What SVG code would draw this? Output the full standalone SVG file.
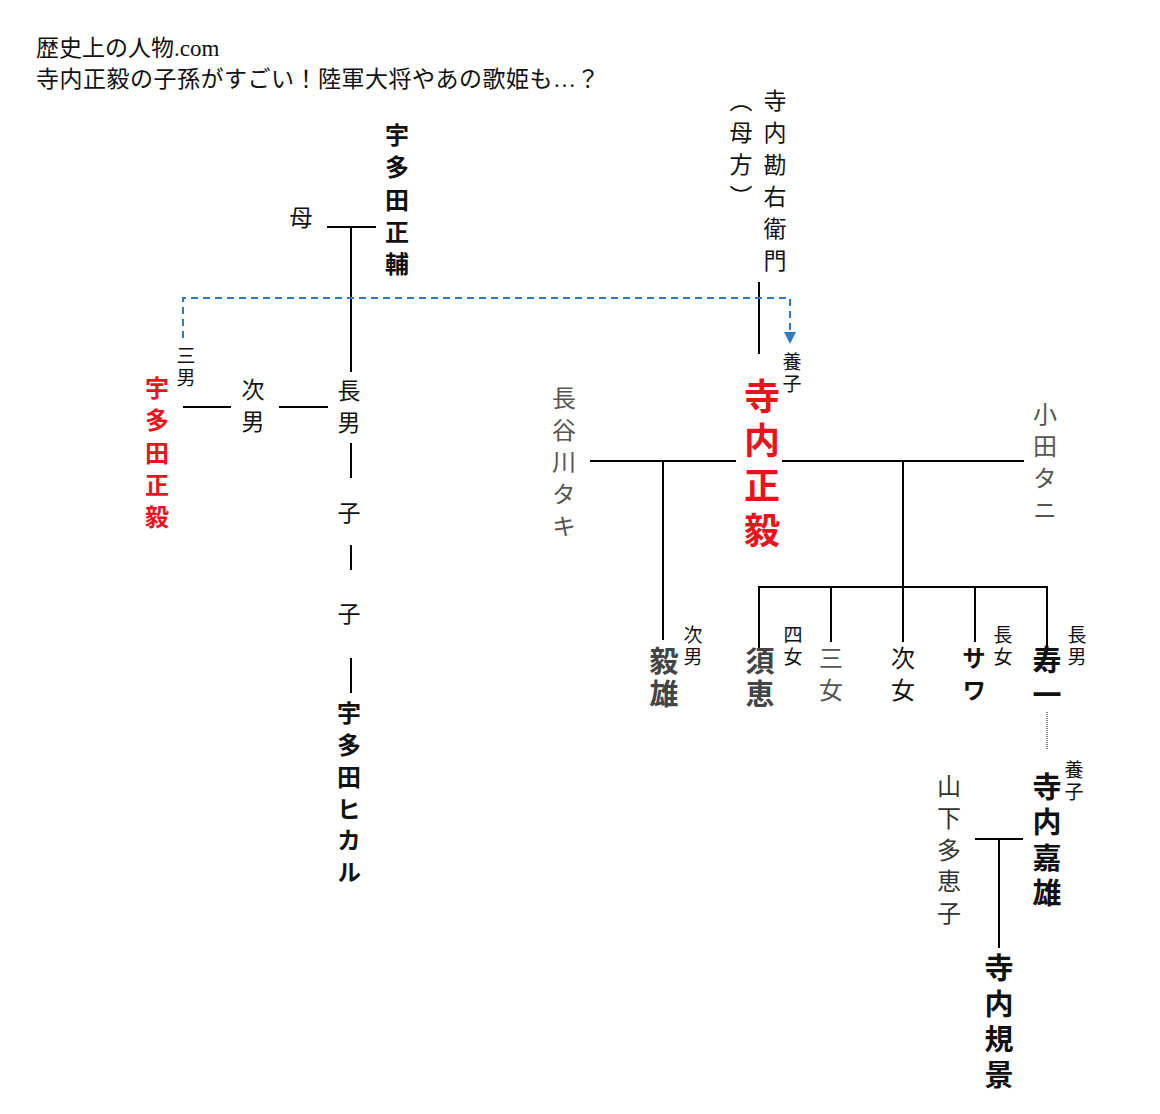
<svg xmlns="http://www.w3.org/2000/svg" width="1160" height="1114" viewBox="0 0 1160 1114">
<defs>
<style>
text{font-family:"Noto Sans CJK JP","Noto Sans CJK SC",sans-serif;}
.c{text-anchor:middle;dominant-baseline:central;}
.v{writing-mode:vertical-rl;text-anchor:start;}
.t{font-family:"Liberation Serif","Noto Sans CJK JP",serif;font-size:23px;fill:#111;}
.b{font-weight:bold;}
.red{fill:#e8141c;}
.dg{fill:#444;}
.g{fill:#555;}
.k{fill:#111;}
.s{font-size:19px;letter-spacing:3px;}
.m{font-size:23px;letter-spacing:9px;}
.l{font-size:24px;letter-spacing:8px;}
.xl{font-size:29px;letter-spacing:6px;}
.xxl{font-size:36px;letter-spacing:8.7px;}
.ln{stroke:#000;stroke-width:2;fill:none;}
.dash{stroke:#2e7bc0;stroke-width:2;fill:none;stroke-dasharray:7 5;}
.dot{stroke:#333;stroke-width:1.2;fill:none;stroke-dasharray:1 1;}
</style>
<marker id="arr" markerWidth="12" markerHeight="12" refX="10" refY="5" orient="auto" markerUnits="userSpaceOnUse" viewBox="0 0 10 10">
<path d="M0,0 L10,5 L0,10 Z" fill="#2e7bc0"/>
</marker>
</defs>
<rect width="1160" height="1114" fill="#fff"/>

<g id="title">
<text class="t" x="36" y="56">歴史上の人物.com</text>
<text class="t" x="36" y="87" letter-spacing="0.5">寺内正毅の子孫がすごい！陸軍大将やあの歌姫も…？</text>
</g>

<g id="connectors">
<path class="ln" d="M327,227 H376 M351,227 V372"/>
<path class="ln" d="M183,407 H231 M279,407 H328"/>
<path class="ln" d="M351,443 V478 M351,545 V570 M351,658 V693"/>
<path class="ln" d="M759,282 V354"/>
<path class="dash" d="M183,338 V298 H790 V344" marker-end="url(#arr)"/>
<path class="ln" d="M590,461 H736 M782,461 H1024"/>
<path class="ln" d="M663,461 V640"/>
<path class="ln" d="M903,461 V642"/>
<path class="ln" d="M759,648 V587 H1047 V648 M831,587 V642 M975,587 V642"/>
<path class="dot" d="M1047,712 V749"/>
<path class="ln" d="M975,839 H1023 M999,839 V948"/>
</g>

<g id="n-haha"><text class="c k" style="font-size:23px" x="301" y="216">母</text></g>

<g id="n-utada-masasuke"><text class="v l b k" x="397" y="123" style="letter-spacing:8.25px">宇多田正輔</text></g>

<g id="n-kanemon">
<text class="v m k" x="775" y="88.5">寺内勘右衛門</text>
<text class="v m k" x="741" y="88.5">（母方）</text>
</g>

<g id="n-chonan"><text class="v m k" x="349" y="378.5">長男</text></g>
<g id="n-jinan"><text class="v m k" x="253" y="377.5">次男</text></g>
<g id="n-utada-masatake">
<text class="v s k" x="186" y="346.5">三男</text>
<text class="v l b red" x="157" y="376" style="letter-spacing:8.25px">宇多田正毅</text>
</g>

<g id="n-ko1"><text class="c k" style="font-size:23px" x="349" y="511">子</text></g>
<g id="n-ko2"><text class="c k" style="font-size:23px" x="349" y="612">子</text></g>
<g id="n-hikaru"><text class="v l b k" x="349" y="701" style="letter-spacing:7.8px">宇多田ヒカル</text></g>

<g id="n-terauchi-masatake">
<text class="v s k" x="792" y="352.5">養子</text>
<text class="v xxl b red" x="762" y="378">寺内正毅</text>
</g>

<g id="n-taki"><text class="v l g" x="564" y="386">長谷川タキ</text></g>
<g id="n-tani"><text class="v l g" x="1045" y="402">小田タニ</text></g>

<g id="n-takeo">
<text class="v xl b dg" x="664" y="646.5" style="letter-spacing:4px">毅雄</text>
<text class="v s k" x="693" y="625.5">次男</text>
</g>
<g id="n-sue">
<text class="v xl b dg" x="760" y="646.5" style="letter-spacing:4px">須恵</text>
<text class="v s k" x="793" y="625.5">四女</text>
</g>
<g id="n-sanjo"><text class="v l g" x="831" y="646">三女</text></g>
<g id="n-jijo"><text class="v l k" x="903" y="646">次女</text></g>
<g id="n-sawa">
<text class="v l b k" x="974" y="646">サワ</text>
<text class="v s k" x="1003" y="625.5">長女</text>
</g>
<g id="n-hisaichi">
<text class="v xl b k" x="1047" y="645.5">寿一</text>
<text class="v s k" x="1077" y="625.5">長男</text>
</g>

<g id="n-yoshio">
<text class="v s k" x="1074" y="760.5">養子</text>
<text class="v xl b k" x="1047" y="772.5" style="letter-spacing:6.3px">寺内嘉雄</text>
</g>
<g id="n-taeko"><text class="v l" fill="#333" x="949" y="774" style="letter-spacing:7.75px">山下多恵子</text></g>
<g id="n-noritaka"><text class="v xl b k" x="999" y="953.5" style="letter-spacing:6.7px">寺内規景</text></g>
</svg>
